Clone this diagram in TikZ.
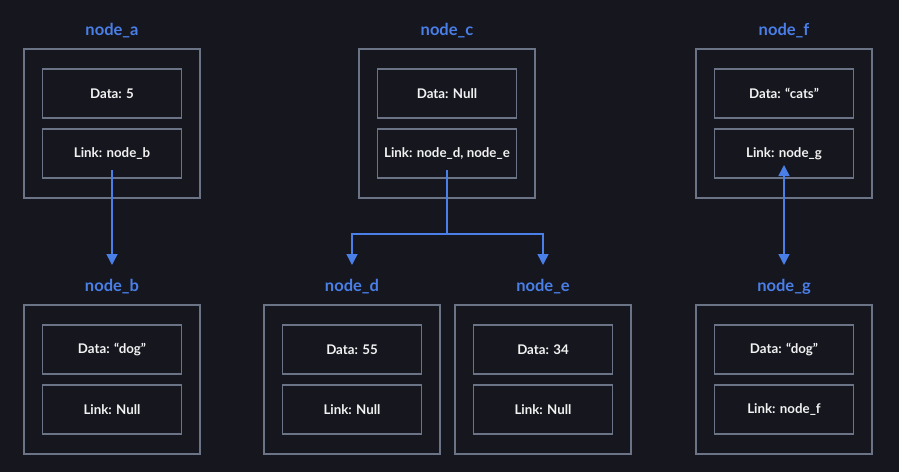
\documentclass[tikz,border=0pt]{standalone}
\usepackage{fontspec}
\setmainfont{Lato}
\usetikzlibrary{arrows.meta}
\definecolor{bgdark}{HTML}{15161E}
\definecolor{boxgray}{HTML}{6B7386}
\definecolor{linkblue}{HTML}{4A7FE8}
\definecolor{textwhite}{HTML}{F2F2F2}
\begin{document}
\begin{tikzpicture}[x=1pt,y=-1pt,
    outerbox/.style={draw=boxgray, line width=1.5pt, minimum width=176pt, minimum height=149pt, inner sep=0pt},
    fieldbox/.style={draw=boxgray, line width=1.5pt, minimum width=139pt, minimum height=49pt, inner sep=0pt,
        text=textwhite, font=\bfseries\fontsize{13.3}{15}\selectfont},
    nodetitle/.style={text=linkblue, font=\bfseries\fontsize{16.5}{18}\selectfont},
    link/.style={linkblue, line width=1.5pt, -{Triangle[width=11pt,length=11pt]}}]

        % Fondo
        \fill[bgdark] (0,0) rectangle (899,472);

        % Nodos de la lista
        \foreach \n/\x/\y/\d/\l in {
            a/112/0/{Data: 5}/{Link: node\_b},
            c/447/0/{Data: Null}/{Link: node\_d, node\_e},
            f/784/0/{Data: “cats”}/{Link: node\_g},
            b/112/256/{Data: “dog”}/{Link: Null},
            d/352/256/{Data: 55}/{Link: Null},
            e/543/256/{Data: 34}/{Link: Null},
            g/784/256/{Data: “dog”}/{Link: node\_f}}
        {
            \node[nodetitle] (title-\n) at (\x,31+\y) {node\_\n};
            \node[outerbox] (box-\n) at (\x,123.5+\y) {};
            \node[fieldbox] (data-\n) at (\x,93.5+\y) {\d};
            \node[fieldbox] (link-\n) at (\x,153.5+\y) {\l};
        }

        % Enlaces
        \draw[link] ([yshift=-16.5pt]link-a.center) -- ([yshift=22pt]title-b.center);
        \draw[link] ([yshift=-16.5pt]link-c.center) -- ++(0,64) coordinate (fork)
            -| ([yshift=22pt]title-d.center);
        \draw[link] (fork) -| ([yshift=22pt]title-e.center);
        \draw[link, {Triangle[width=11pt,length=11pt]}-{Triangle[width=11pt,length=11pt]}]
            ([yshift=-11.5pt]link-f.center) -- ([yshift=22pt]title-g.center);
    \end{tikzpicture}
\end{document}
